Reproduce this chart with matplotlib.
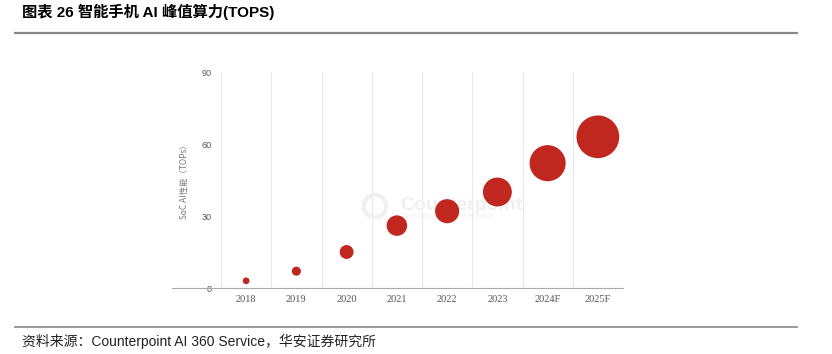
import numpy as np
import matplotlib.pyplot as plt
from matplotlib.lines import Line2D

plt.rcParams['font.family'] = ['Liberation Sans', 'Noto Sans CJK SC', 'DejaVu Sans']

# data
years = ['2018', '2019', '2020', '2021', '2022', '2023', '2024F', '2025F']
tops = [3, 7, 15, 26, 32, 40, 52, 63]

title = '图表 26 智能手机 AI 峰值算力(TOPS)'
source = '资料来源：Counterpoint AI 360 Service，华安证券研究所'
ylabel = 'SoC AI性能（TOPs）'

fig = plt.figure(figsize=(8.32, 3.54), dpi=100)
ax = fig.add_axes([221/832, 1 - 288/354, 402/832, 216/354])

x = np.arange(len(years))
# bubble diameter (px) grows with the value
diam = 4.9 + 0.6 * np.array(tops)
sizes = (diam * 72 / 100) ** 2
ax.scatter(x, tops, s=sizes, color='#c0271f', zorder=3, linewidths=0)

ax.set_xlim(-0.5, len(years) - 0.5)
ax.set_ylim(0, 90)
ax.set_yticks([0, 30, 60, 90])
ax.set_xticks(x)
ax.set_xticklabels(years, family=['Liberation Serif'], fontsize=7.5, color='#555555')
ax.tick_params(axis='y', labelsize=6.5, labelcolor='#555555', length=0, pad=7)
ax.tick_params(axis='x', length=0, pad=5)

# vertical band separators
for b in np.arange(-0.5, len(years), 1.0):
    ax.axvline(b, color='#e8e8e8', lw=0.8, zorder=0)
for s in ax.spines.values():
    s.set_visible(False)

ax.set_ylabel(ylabel, family=['Noto Sans CJK SC'], fontsize=6, color='#777777', labelpad=9)

# x baseline
fig.add_artist(Line2D([172/832, 623/832], [1 - 288/354] * 2, color='#aaaaaa', lw=0.8))

# watermark, under the bubbles
ax.text(400/832, 1 - 205/354, 'Counterpoint', fontsize=14, fontweight='bold',
        color='#f0f0f0', ha='left', va='center', zorder=1, transform=fig.transFigure)
ax.text(402/832, 1 - 216/354, 'Technology Market Research', fontsize=5,
        color='#f0f0f0', ha='left', va='center', zorder=1, transform=fig.transFigure)
ax.scatter([375/832], [1 - 206/354], s=260, facecolors='none', edgecolors='#f0f0f0',
           linewidths=3, zorder=1, transform=fig.transFigure)

# title and source
fig.text(22/832, 1 - 12/354, title, fontsize=11, fontweight='bold', ha='left', va='center',
         family=['Liberation Sans', 'Noto Sans CJK SC'])
fig.add_artist(Line2D([15/832, 797/832], [1 - 33/354] * 2, color='#888888', lw=1.6))
fig.add_artist(Line2D([15/832, 797/832], [1 - 327/354] * 2, color='#888888', lw=1.2))
fig.text(22/832, 1 - 341/354, source, fontsize=10, ha='left', va='center', color='#222222')

plt.savefig('out.png', dpi=100)
